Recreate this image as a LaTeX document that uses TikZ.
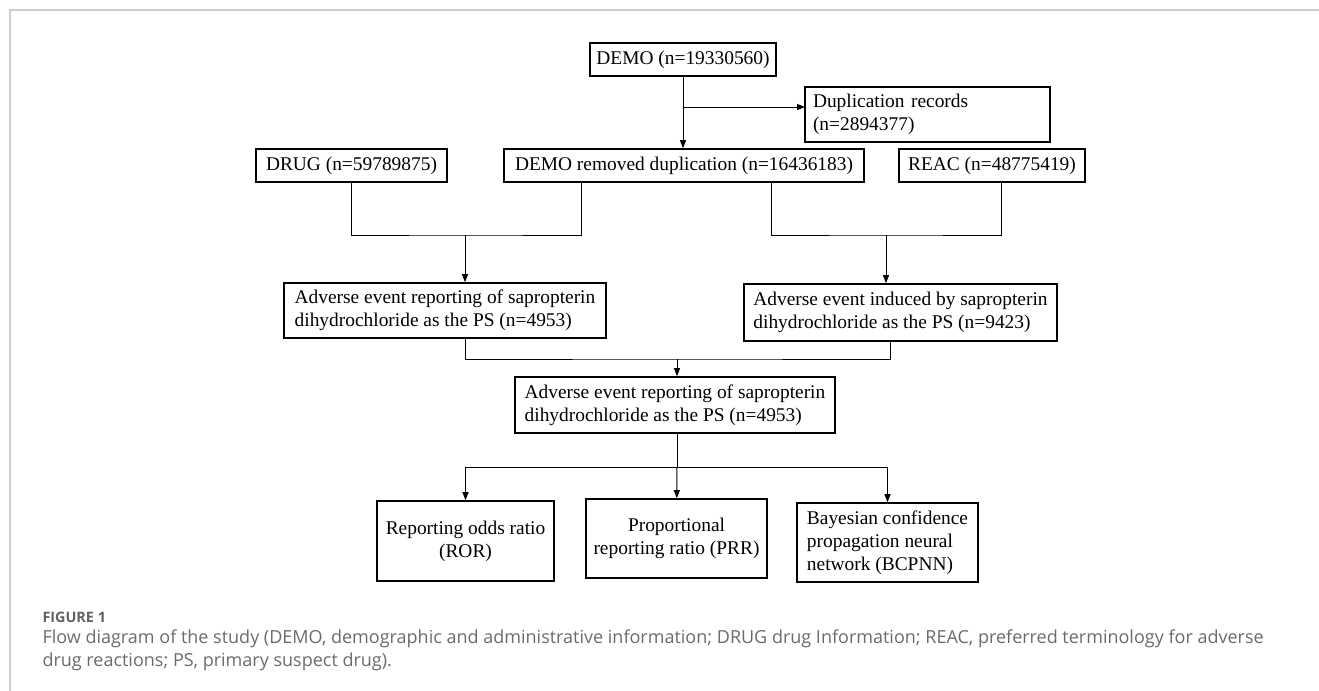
\documentclass[tikz,border=0pt]{standalone}
\usepackage{fontspec}
\setmainfont{Liberation Serif}
\newfontfamily\capfont{Open Sans}
\usetikzlibrary{arrows.meta}

\begin{document}
\begin{tikzpicture}[x=0.5pt,y=-0.5pt,line width=0.5pt,
box/.style={draw,line width=0.8pt,inner sep=0pt,align=center,font=\fontsize{9.7}{11.6}\selectfont},
lbox/.style={box,align=left},
arr/.style={-{Triangle[length=4pt,width=3pt]}},
capline/.style={anchor=base west,inner sep=0pt,text=black!58,font=\capfont\fontsize{9}{11}\selectfont}]
\useasboundingbox (0,0) rectangle (1319,691);
\draw[black!20,line width=1pt] (1319,10) -- (10,10) -- (10,691);
% boxes
\node[box,minimum width=93pt,minimum height=16.5pt] (demo) at (683,59.5) {DEMO (n=19330560)};
\node[lbox,text width=114.5pt,inner xsep=4pt,minimum height=27.5pt] (dup) at (927.5,114.5) {Duplication records\\(n=2894377)};
\node[box,minimum width=95.5pt,minimum height=16.5pt] (drug) at (351.5,165.5) {DRUG (n=59789875)};
\node[box,minimum width=180pt,minimum height=16.5pt] (demorem) at (684,165.5) {DEMO removed duplication (n=16436183)};
\node[box,minimum width=93pt,minimum height=16.5pt] (reac) at (992,165.5) {REAC (n=48775419)};
\node[lbox,minimum width=161pt,minimum height=27.5pt] (advl) at (445,310.5) {Adverse event reporting of sapropterin\\dihydrochloride as the PS (n=4953)};
\node[lbox,minimum width=156.5pt,minimum height=28.5pt] (advr) at (900.5,312.5) {Adverse event induced by sapropterin\\dihydrochloride as the PS (n=9423)};
\node[lbox,minimum width=160pt,minimum height=28pt] (mid) at (675,405) {Adverse event reporting of sapropterin\\dihydrochloride as the PS (n=4953)};
\node[box,minimum width=88.5pt,minimum height=40pt] (ror) at (465.5,541) {Reporting odds ratio\\(ROR)};
\node[box,minimum width=90.5pt,minimum height=39.5pt] (prr) at (676.5,538.5) {Proportional\\reporting ratio (PRR)};
\node[lbox,minimum width=90.5pt,minimum height=39.5pt] (bcpnn) at (887.5,542.5) {Bayesian confidence\\propagation neural\\network (BCPNN)};
% joints
\coordinate (dupin) at (805,107);
\coordinate (jl) at (465,235);
\coordinate (dl) at (581,182);
\coordinate (dr) at (771,182);
\coordinate (rr) at (1001,182);
\coordinate (jr) at (886,235);
\coordinate (al) at (465,338);
\coordinate (ar) at (890,341);
\coordinate (jm) at (677,359);
\coordinate (jb) at (677,467);
\draw[arr] (demo) -- (demo.south |- demorem.north);
\draw[arr] (demo.south |- dupin) -- (dupin);
\draw (drug) |- (jl) -| (dl);
\draw[arr] (jl) -- (jl |- advl.north);
\draw (dr) |- (jr) -| (rr);
\draw[arr] (jr) -- (jr |- advr.north);
\draw (al) |- (jm) -| (ar);
\draw[arr] (jm) -- (jm |- mid.north);
\draw (mid.south -| jm) -- (jb);
\draw[arr] (jb) -| (ror);
\draw[arr] (jb) -- (prr);
\draw[arr] (jb) -| (bcpnn);
% caption
\node[capline,text=black!62,font=\capfont\bfseries\fontsize{7.2}{8}\selectfont] (fig) at (42,622) {FIGURE 1};
\node[capline] (cap1) at (42,643) {Flow diagram of the study (DEMO, demographic and administrative information; DRUG drug Information; REAC, preferred terminology for adverse};
\node[capline] (cap2) at (42,666) {drug reactions; PS, primary suspect drug).};
\end{tikzpicture}
\end{document}
